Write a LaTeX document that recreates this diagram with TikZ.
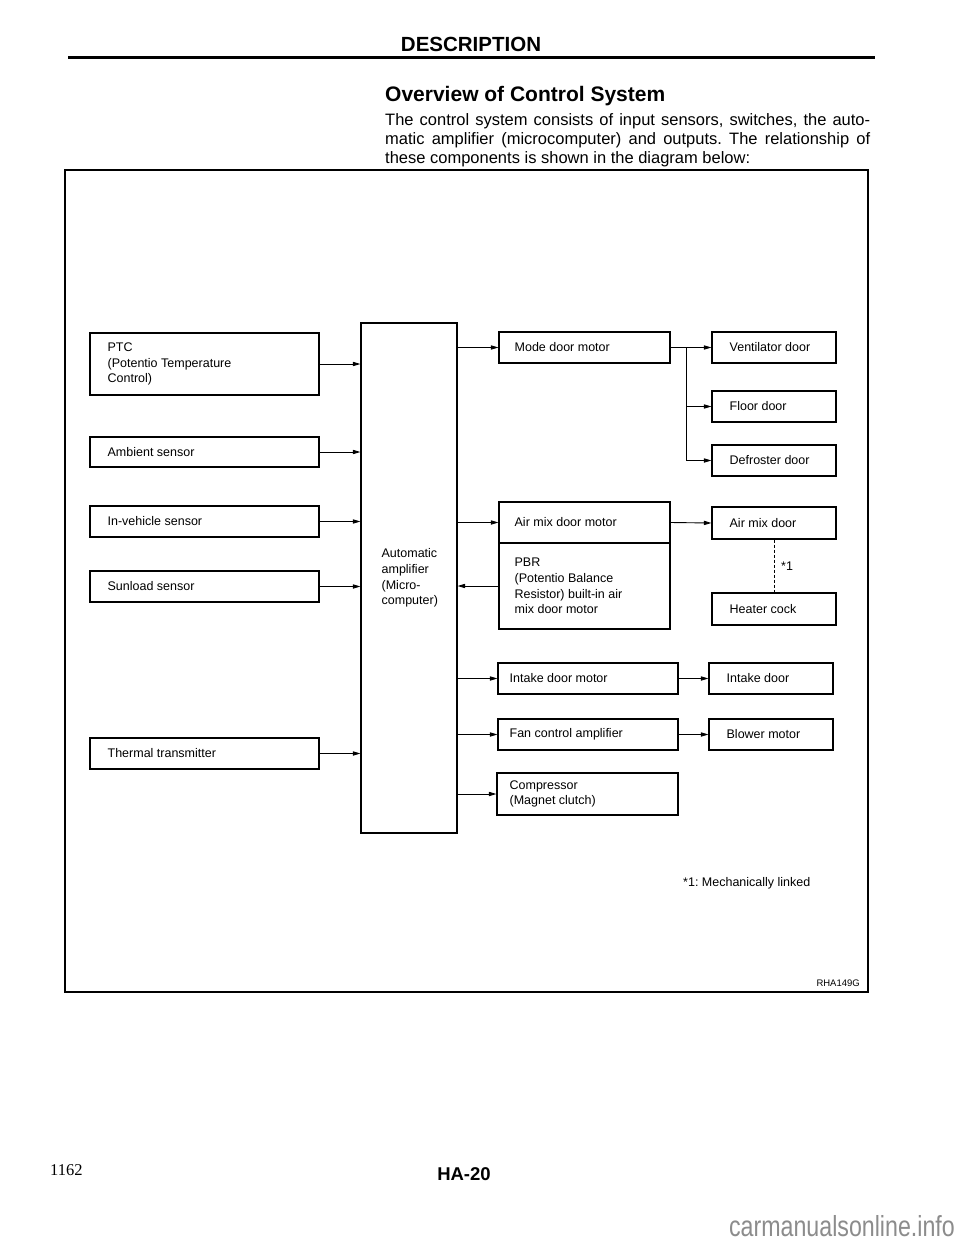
\documentclass[tikz,border=0pt]{standalone}
\usepackage{fontspec}
\setmainfont{Liberation Sans}
\newfontfamily\seriffont{Liberation Serif}
\usepackage{graphicx}
\usetikzlibrary{arrows.meta}
\frenchspacing
\newcommand\dfont{\fontsize{12.5}{15.7}\selectfont}
\newcommand\pfont{\fontsize{16.5}{19}\selectfont}
\begin{document}
\begin{tikzpicture}[x=1pt,y=-1pt,
  blk/.style={draw, line width=1.1pt, inner sep=0pt, rectangle},
  lbl/.style={anchor=west, inner sep=0pt, align=left, font=\dfont},
  arr/.style={line width=0.9pt, -{Triangle[length=7.5pt,width=4.2pt]}},
  ln/.style={line width=0.9pt}]
\useasboundingbox (0,0) rectangle (960,1242);
\fill[white] (0,0) rectangle (960,1242);

% header
\node[anchor=base, inner sep=0pt, font=\fontsize{20.5}{24}\selectfont\bfseries] (hdr) at (471,51.7) {DESCRIPTION};
\draw[line width=2.8pt] (68,57.5) -- (875,57.5);
\node[anchor=base west, inner sep=0pt, font=\fontsize{21}{24}\selectfont\bfseries] (ttl) at (385,101.7) {Overview of Control System};
\node[anchor=base west, inner sep=0pt, font=\pfont] (p1) at (385,125) {\makebox[485pt][s]{The control system consists of input sensors, switches, the auto-}};
\node[anchor=base west, inner sep=0pt, font=\pfont] (p2) at (385,144) {\makebox[485pt][s]{matic amplifier (microcomputer) and outputs. The relationship of}};
\node[anchor=base west, inner sep=0pt, font=\pfont] (p3) at (385,163) {these components is shown in the diagram below:};

% frame
\draw[line width=1.1pt] (65,170) rectangle (868,992);

% left column
\node[blk, minimum width=229pt, minimum height=62pt] (ptc) at (204.5,364) {};
\node[lbl] (ptct) at ([xshift=18pt]ptc.west) {PTC\\(Potentio Temperature\\Control)};
\node[blk, minimum width=229pt, minimum height=30pt] (amb) at (204.5,452) {};
\node[lbl] (ambt) at ([xshift=18pt]amb.west) {Ambient sensor};
\node[blk, minimum width=229pt, minimum height=31pt] (inv) at (204.5,521.5) {};
\node[lbl] (invt) at ([xshift=18pt]inv.west) {In-vehicle sensor};
\node[blk, minimum width=229pt, minimum height=31pt] (sun) at (204.5,586.5) {};
\node[lbl] (sunt) at ([xshift=18pt]sun.west) {Sunload sensor};
\node[blk, minimum width=229pt, minimum height=31pt] (thm) at (204.5,753.5) {};
\node[lbl] (thmt) at ([xshift=18pt]thm.west) {Thermal transmitter};

% amplifier
\node[blk, minimum width=96pt, minimum height=510pt] (amp) at (409,578) {};
\node[lbl] (ampt) at ([xshift=21pt]amp.west) {Automatic\\amplifier\\(Micro-\\computer)};

% middle column
\node[blk, minimum width=171pt, minimum height=31pt] (mdm) at (584.5,347.5) {};
\node[lbl] (mdmt) at ([xshift=16pt]mdm.west) {Mode door motor};
\node[blk, minimum width=171pt, minimum height=41pt] (amm) at (584.5,522.5) {};
\node[lbl] (ammt) at ([xshift=16pt]amm.west) {Air mix door motor};
\node[blk, minimum width=171pt, minimum height=86pt] (pbr) at (584.5,586) {};
\node[lbl] (pbrt) at ([xshift=16pt]pbr.west) {PBR\\(Potentio Balance\\Resistor) built-in air\\mix door motor};
\node[blk, minimum width=180pt, minimum height=31pt] (itm) at (588,678.5) {};
\node[lbl] (itmt) at ([xshift=12pt]itm.west) {Intake door motor};
\node[blk, minimum width=180pt, minimum height=31pt] (fan) at (588,734.5) {};
\node[lbl] (fant) at ([xshift=12pt]fan.west) {Fan control amplifier};
\node[blk, minimum width=181pt, minimum height=42pt] (cmp) at (587.5,794) {};
\node[lbl] (cmpt) at ([xshift=13pt]cmp.west) {Compressor\\(Magnet clutch)};

% right column
\node[blk, minimum width=124pt, minimum height=31pt] (vnt) at (774,347.5) {};
\node[lbl] (vntt) at ([xshift=18pt]vnt.west) {Ventilator door};
\node[blk, minimum width=124pt, minimum height=31pt] (flr) at (774,406.5) {};
\node[lbl] (flrt) at ([xshift=18pt]flr.west) {Floor door};
\node[blk, minimum width=124pt, minimum height=31pt] (dfr) at (774,460.5) {};
\node[lbl] (dfrt) at ([xshift=18pt]dfr.west) {Defroster door};
\node[blk, minimum width=124pt, minimum height=32pt] (amd) at (774,523) {};
\node[lbl] (amdt) at ([xshift=18pt]amd.west) {Air mix door};
\node[blk, minimum width=124pt, minimum height=32pt] (htc) at (774,609) {};
\node[lbl] (htct) at ([xshift=18pt]htc.west) {Heater cock};
\node[blk, minimum width=124pt, minimum height=31pt] (itd) at (771,678.5) {};
\node[lbl] (itdt) at ([xshift=18pt]itd.west) {Intake door};
\node[blk, minimum width=124pt, minimum height=31pt] (blw) at (771,734.5) {};
\node[lbl] (blwt) at ([xshift=18pt]blw.west) {Blower motor};

% inputs
\foreach \n in {ptc,amb,inv,sun,thm}
  \draw[arr] (\n.east) -- (\n.east -| amp.west);
% outputs
\foreach \n in {mdm,amm,itm,fan,cmp}
  \draw[arr] (\n.west -| amp.east) -- (\n.west);
\draw[arr] (pbr.west) -- (pbr.west -| amp.east);

% mode door branches
\draw[arr] (mdm.east) -- (vnt.west);
\coordinate (br) at (686,347.5);
\draw[ln] (br) -- (br |- dfr.west);
\draw[arr] (br |- flr.west) -- (flr.west);
\draw[arr] (br |- dfr.west) -- (dfr.west);

\draw[arr] (amm.east) -- (amd.west);
\draw[ln, dash pattern=on 3pt off 2pt] (amd.south) -- (htc.north);
\node[lbl] (lnk) at (781,566) {*1};
\draw[arr] (itm.east) -- (itd.west);
\draw[arr] (fan.east) -- (blw.west);

% notes
\node[lbl] (note) at (683,883) {*1: Mechanically linked};
\node[anchor=east, inner sep=0pt, font=\fontsize{9.5}{11}\selectfont] (code) at (860,983) {RHA149G};

% footer
\node[anchor=base west, inner sep=0pt, font=\seriffont\fontsize{16.5}{19}\selectfont] (pg) at (50,1175) {1162};
\node[anchor=base, inner sep=0pt, font=\fontsize{18.5}{22}\selectfont\bfseries] (ha) at (464,1180) {HA-20};
\node[anchor=base east, inner sep=0pt, text=black!45, font=\fontsize{29}{32}\selectfont] (wm) at (955,1236) {\scalebox{0.8}[1]{carmanualsonline.info}};
\end{tikzpicture}
\end{document}
